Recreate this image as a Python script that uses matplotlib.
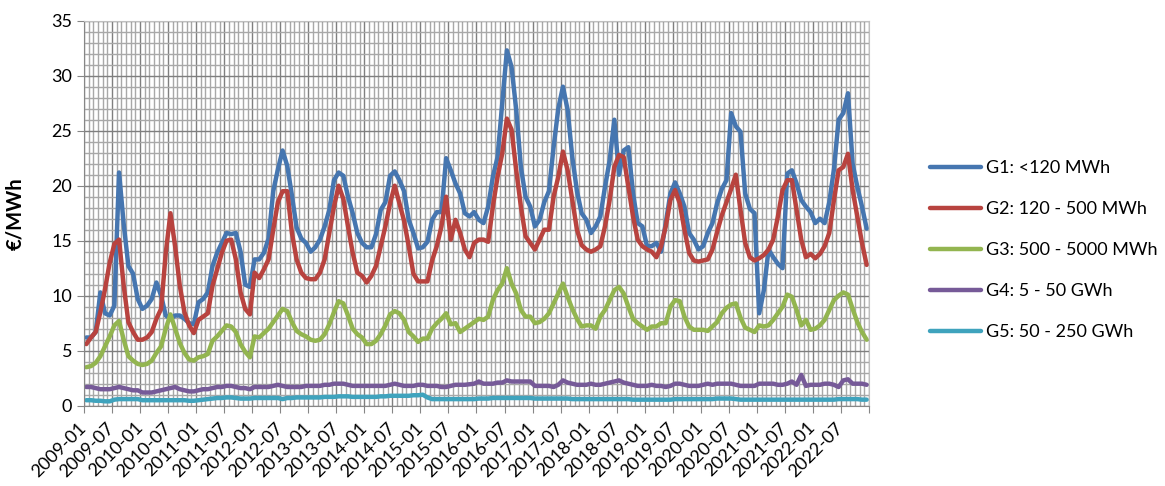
import matplotlib
matplotlib.use("Agg")
import matplotlib.pyplot as plt
from matplotlib.ticker import MultipleLocator

plt.rcParams['font.family'] = ['Lato', 'DejaVu Sans']

years = list(range(2009, 2023))
months = [f"{y}-{m:02d}" for y in years for m in range(1, 13)]

# monthly values, one row per year (2009 .. 2022)
g1 = [6.2, 6.2, 6.7, 10.3, 8.4, 8.2, 9.1, 21.2, 16.5, 12.7, 12.0, 9.7,
      8.8, 9.1, 9.7, 11.2, 10.0, 8.2, 7.9, 8.2, 8.2, 7.9, 7.5, 7.4,
      9.4, 9.7, 10.3, 12.7, 13.9, 14.8, 15.7, 15.6, 15.7, 14.0, 11.0, 10.8,
      13.3, 13.3, 13.9, 15.2, 19.5, 21.5, 23.2, 21.8, 19.1, 16.2, 15.2, 14.8,
      14.0, 14.4, 15.1, 16.3, 17.8, 20.5, 21.2, 20.9, 19.0, 17.5, 15.7, 14.8,
      14.4, 14.4, 15.6, 17.8, 18.5, 20.9, 21.3, 20.5, 19.5, 16.9, 15.7, 14.3,
      14.4, 14.9, 16.9, 17.6, 17.6, 22.5, 21.4, 20.2, 19.3, 17.5, 17.2, 17.6,
      16.9, 16.6, 18.1, 20.8, 22.6, 27.5, 32.3, 30.8, 26.9, 21.7, 19.0, 18.1,
      16.3, 16.9, 18.5, 19.5, 23.5, 27.0, 29.0, 26.9, 22.6, 19.5, 17.5, 16.9,
      15.7, 16.3, 17.2, 19.9, 22.3, 26.0, 21.0, 23.2, 23.5, 19.3, 16.6, 16.3,
      14.5, 14.5, 14.8, 14.0, 16.6, 19.3, 20.3, 19.3, 18.1, 15.7, 15.1, 14.2,
      14.5, 15.7, 16.6, 18.4, 19.7, 20.5, 26.6, 25.4, 24.9, 19.3, 17.9, 17.5,
      8.4, 10.5, 14.2, 13.5, 12.9, 12.5, 21.1, 21.4, 20.2, 18.7, 18.1, 17.6,
      16.6, 17.0, 16.6, 18.5, 21.5, 26.0, 26.6, 28.4, 22.0, 19.9, 18.1, 16.1]

g2 = [5.6, 6.2, 6.7, 8.5, 10.6, 13.0, 14.7, 15.1, 10.9, 7.6, 6.7, 6.0,
      6.0, 6.2, 6.7, 7.9, 8.8, 13.9, 17.5, 14.5, 10.9, 8.5, 7.3, 6.6,
      7.8, 8.1, 8.4, 10.9, 12.4, 13.9, 15.0, 15.1, 13.3, 10.3, 8.8, 8.3,
      12.1, 11.6, 12.4, 13.3, 16.0, 18.5, 19.5, 19.5, 15.7, 13.3, 12.1, 11.6,
      11.5, 11.5, 12.1, 13.3, 15.7, 18.1, 20.0, 18.8, 16.3, 13.9, 12.1, 11.8,
      11.2, 11.8, 12.7, 14.5, 16.3, 18.4, 20.0, 18.4, 16.8, 14.5, 12.0, 11.3,
      11.3, 11.3, 13.2, 14.5, 16.3, 19.0, 15.1, 16.9, 15.7, 14.2, 13.5, 14.8,
      15.1, 15.1, 14.9, 18.1, 20.8, 22.9, 26.1, 25.1, 21.4, 18.1, 15.4, 14.8,
      14.2, 15.1, 16.0, 16.0, 19.0, 20.8, 23.1, 21.4, 18.7, 16.0, 14.6, 14.2,
      14.0, 14.2, 14.5, 16.3, 18.7, 21.7, 22.8, 22.6, 19.9, 17.2, 15.1, 14.5,
      14.2, 14.0, 13.5, 14.5, 16.3, 18.7, 19.6, 18.4, 16.0, 13.9, 13.2, 13.1,
      13.2, 13.3, 14.2, 15.8, 17.3, 18.5, 19.7, 21.0, 17.8, 14.8, 13.5, 13.2,
      13.4, 13.7, 14.2, 15.1, 17.2, 19.6, 20.5, 20.5, 17.8, 15.1, 13.5, 13.8,
      13.4, 13.8, 14.5, 15.7, 18.7, 21.4, 21.7, 22.9, 19.6, 17.2, 14.8, 12.8]

g3 = [3.5, 3.6, 3.9, 4.5, 5.4, 6.3, 7.3, 7.7, 6.0, 4.5, 4.1, 3.8,
      3.7, 3.8, 4.1, 4.8, 5.4, 7.0, 8.3, 7.0, 5.7, 4.8, 4.2, 4.1,
      4.4, 4.5, 4.7, 5.9, 6.3, 6.8, 7.3, 7.2, 6.7, 5.6, 4.9, 4.4,
      6.3, 6.2, 6.6, 7.0, 7.6, 8.2, 8.8, 8.6, 7.6, 6.8, 6.5, 6.3,
      6.0, 5.9, 6.0, 6.5, 7.4, 8.5, 9.5, 9.3, 8.2, 7.0, 6.5, 6.2,
      5.6, 5.6, 5.9, 6.5, 7.3, 8.3, 8.6, 8.4, 7.8, 6.7, 6.3, 5.8,
      6.1, 6.1, 7.0, 7.5, 7.9, 8.4, 7.4, 7.5, 6.7, 7.0, 7.3, 7.6,
      7.9, 7.8, 8.1, 9.6, 10.5, 11.1, 12.5, 11.1, 10.2, 8.7, 8.1, 8.1,
      7.5, 7.6, 7.9, 8.4, 9.3, 10.2, 11.1, 9.9, 8.8, 7.9, 7.2, 7.3,
      7.3, 7.0, 8.1, 8.7, 9.6, 10.5, 10.8, 10.2, 9.0, 7.9, 7.5, 7.2,
      6.9, 7.2, 7.2, 7.5, 7.5, 9.0, 9.6, 9.5, 8.1, 7.2, 6.9, 6.9,
      6.9, 6.8, 7.2, 7.6, 8.4, 8.9, 9.2, 9.3, 8.0, 7.1, 6.9, 6.7,
      7.3, 7.2, 7.3, 7.8, 8.4, 9.0, 10.1, 9.9, 8.7, 7.3, 7.8, 6.9,
      7.0, 7.3, 7.8, 8.7, 9.6, 10.0, 10.3, 10.1, 8.8, 7.6, 6.7, 6.0]

g4 = [1.7, 1.7, 1.6, 1.5, 1.5, 1.5, 1.6, 1.7, 1.6, 1.5, 1.4, 1.4,
      1.2, 1.2, 1.2, 1.3, 1.4, 1.5, 1.6, 1.7, 1.5, 1.4, 1.3, 1.3,
      1.4, 1.5, 1.5, 1.6, 1.7, 1.7, 1.8, 1.8, 1.7, 1.6, 1.6, 1.5,
      1.7, 1.7, 1.7, 1.7, 1.8, 1.9, 1.8, 1.7, 1.7, 1.7, 1.7, 1.8,
      1.8, 1.8, 1.8, 1.9, 1.9, 2.0, 2.0, 2.0, 1.9, 1.8, 1.8, 1.8,
      1.8, 1.8, 1.8, 1.8, 1.8, 1.9, 2.0, 1.9, 1.8, 1.8, 1.8, 1.9,
      1.9, 1.8, 1.8, 1.8, 1.7, 1.7, 1.8, 1.9, 1.9, 1.9, 1.95, 2.0,
      2.2, 2.0, 2.0, 2.0, 2.1, 2.1, 2.3, 2.2, 2.2, 2.2, 2.2, 2.2,
      1.8, 1.8, 1.8, 1.8, 1.7, 1.9, 2.3, 2.1, 2.0, 1.9, 1.9, 1.9,
      2.0, 1.9, 1.9, 2.0, 2.1, 2.2, 2.3, 2.1, 2.0, 1.9, 1.8, 1.8,
      1.8, 1.9, 1.8, 1.8, 1.7, 1.8, 2.0, 2.0, 1.9, 1.8, 1.8, 1.8,
      1.9, 2.0, 1.9, 2.0, 2.0, 2.0, 2.0, 1.9, 1.8, 1.8, 1.8, 1.8,
      2.0, 2.0, 2.0, 2.0, 1.9, 1.9, 2.0, 2.2, 1.9, 2.8, 1.8, 1.9,
      1.9, 1.9, 2.0, 2.0, 1.9, 1.7, 2.3, 2.4, 2.0, 2.0, 2.0, 1.9]

g5 = [0.5, 0.5, 0.45, 0.45, 0.4, 0.4, 0.55, 0.6, 0.6, 0.6, 0.6, 0.6,
      0.5, 0.5, 0.5, 0.5, 0.5, 0.5, 0.5, 0.5, 0.5, 0.5, 0.45, 0.45,
      0.5, 0.55, 0.6, 0.65, 0.7, 0.7, 0.75, 0.75, 0.7, 0.65, 0.65, 0.65,
      0.7, 0.7, 0.7, 0.7, 0.7, 0.7, 0.6, 0.7, 0.7, 0.75, 0.75, 0.75,
      0.75, 0.75, 0.75, 0.8, 0.8, 0.8, 0.85, 0.85, 0.85, 0.8, 0.8, 0.8,
      0.8, 0.8, 0.8, 0.85, 0.85, 0.9, 0.9, 0.9, 0.9, 0.9, 0.95, 0.95,
      1.0, 0.75, 0.6, 0.6, 0.6, 0.6, 0.6, 0.6, 0.6, 0.6, 0.6, 0.6,
      0.65, 0.65, 0.65, 0.7, 0.7, 0.7, 0.7, 0.7, 0.7, 0.7, 0.7, 0.7,
      0.65, 0.65, 0.65, 0.65, 0.65, 0.65, 0.65, 0.65, 0.6, 0.6, 0.6, 0.6,
      0.6, 0.6, 0.6, 0.6, 0.6, 0.6, 0.6, 0.6, 0.6, 0.55, 0.55, 0.55,
      0.55, 0.55, 0.55, 0.55, 0.55, 0.55, 0.6, 0.6, 0.6, 0.6, 0.6, 0.6,
      0.6, 0.6, 0.6, 0.65, 0.65, 0.65, 0.65, 0.6, 0.55, 0.55, 0.55, 0.55,
      0.55, 0.55, 0.55, 0.55, 0.55, 0.55, 0.55, 0.55, 0.55, 0.55, 0.55, 0.55,
      0.55, 0.55, 0.55, 0.55, 0.55, 0.6, 0.6, 0.6, 0.6, 0.6, 0.55, 0.55]

labels = ['G1: <120 MWh', 'G2: 120 - 500 MWh', 'G3: 500 - 5000 MWh',
          'G4: 5 - 50 GWh', 'G5: 50 - 250 GWh']
colors = ['#4676B0', '#B8433F', '#93B550', '#765A98', '#3FA3BD']

W, H = 1165, 486
fig = plt.figure(figsize=(W / 100, H / 100), dpi=100)
ax = fig.add_axes([84 / W, 1 - 405.7 / H, 785 / W, 385 / H])

x = list(range(len(months)))
for vals, lab, col in zip([g1, g2, g3, g4, g5], labels, colors):
    ax.plot(x, vals, color=col, lw=3.2, label=lab,
            solid_joinstyle='round', solid_capstyle='round')

ax.set_xlim(-0.5, len(months) - 0.5)
ax.set_ylim(0, 35)

major = [i - 0.5 for i in range(0, len(months) + 1, 6)]
ax.set_xticks(major)
ax.set_xticklabels([months[i] for i in range(0, len(months), 6)] + [''],
                   rotation=45, ha='right', va='center', rotation_mode='anchor')
ax.set_xticks([i - 0.5 for i in range(len(months) + 1)], minor=True)
ax.yaxis.set_major_locator(MultipleLocator(5))
ax.yaxis.set_minor_locator(MultipleLocator(1))

ax.set_axisbelow(True)
ax.grid(which='minor', color='#a8a8a8', lw=1.0)
ax.grid(which='major', color='#7f7f7f', lw=1.0)
ax.tick_params(which='minor', length=0)
ax.tick_params(which='major', length=5, color='#868686', labelsize=13)
ax.tick_params(axis='x', pad=9)
for side in ['left', 'bottom']:
    ax.spines[side].set_color('#868686')
for side in ['top', 'right']:
    ax.spines[side].set_color('#bfbfbf')

ax.set_ylabel('€/MWh', fontsize=14.5, fontweight='bold')
ax.yaxis.set_label_coords((25 - 84) / 785, 0.5)

fig.legend(loc='center left', bbox_to_anchor=(921 / W, 1 - 250 / H),
           frameon=False, fontsize=13, handlelength=2.8, handletextpad=0.3,
           labelspacing=1.38, borderpad=0)

fig.savefig('out.png', dpi=100)
